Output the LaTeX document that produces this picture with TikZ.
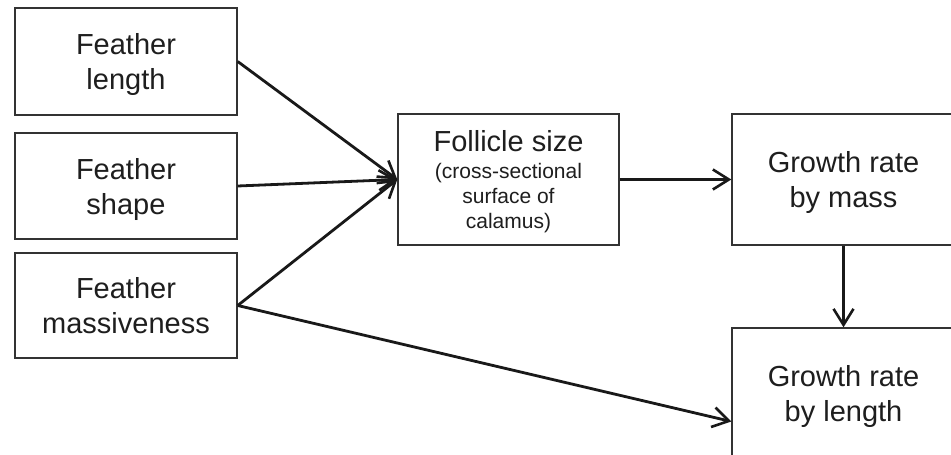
\documentclass[tikz,border=0pt]{standalone}
\usepackage{fontspec}
\setmainfont{Liberation Sans}
\usetikzlibrary{arrows.meta}
\definecolor{boxline}{HTML}{333333}
\definecolor{txt}{HTML}{1E1E1E}
\begin{document}
\begin{tikzpicture}[x=1pt,y=1pt,
  box/.style={draw=boxline, line width=1.4pt, fill=white, align=center, text=txt,
    text depth=0pt, inner sep=0pt, font=\fontsize{29}{35}\selectfont},
  conn/.style={draw=black!90, line width=2.8pt,
    -{Straight Barb[length=16pt,width=20pt,line width=2.6pt]}}]
\useasboundingbox (0,0) rectangle (951,455);
\clip (0,0) rectangle (951,455);
\node[box, minimum width=222pt, minimum height=107pt] (flen) at (126,393.5) {Feather\\length};
\node[box, minimum width=222pt, minimum height=106pt] (fshape) at (126,269) {Feather\\shape};
\node[box, minimum width=222pt, minimum height=105pt] (fmass) at (126,149.5) {Feather\\massiveness};
\node[box, minimum width=221pt, minimum height=131pt, font=\fontsize{21}{25}\selectfont] (foll) at (508.5,275.5)
  {{\fontsize{29}{29}\selectfont Follicle size}\\[2pt](cross-sectional\\surface of\\calamus)};
\node[box, minimum width=223pt, minimum height=131pt] (gmass) at (843.5,275.5) {Growth rate\\by mass};
\node[box, minimum width=223pt, minimum height=131pt] (glen) at (843.5,61.5) {Growth rate\\by length};
\draw[conn] (flen.east) -- (foll.west);
\draw[conn] (fshape.east) -- (foll.west);
\draw[conn] (fmass.east) -- (foll.west);
\draw[conn] (fmass.east) -- ([yshift=-28pt]glen.west);
\draw[conn] (foll.east) -- (gmass.west);
\draw[conn] (gmass.south) -- (glen.north);
\end{tikzpicture}
\end{document}
